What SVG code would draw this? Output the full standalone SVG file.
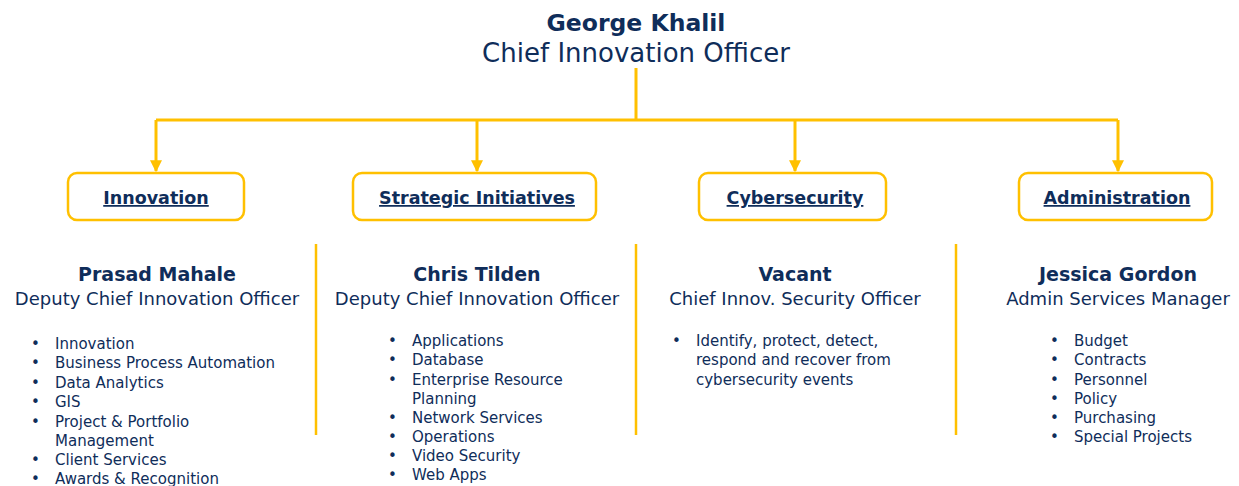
<svg xmlns="http://www.w3.org/2000/svg" width="1239" height="486" viewBox="0 0 1239 486">
<defs>
<style>
text{font-family:"DejaVu Sans","Liberation Sans",sans-serif;fill:#0f2d5a}
.h{font-size:23.5px;font-weight:bold}
.ht{font-size:26px}
.lbl{font-size:17.5px;font-weight:bold;text-decoration:underline}
.nm{font-size:19px;font-weight:bold}
.tt{font-size:18px}
.li{font-size:15px}
.box{fill:#fff;stroke:#ffc000;stroke-width:2.5}
.ln{stroke:#ffc000;stroke-width:3;fill:none}
.dv{stroke:#ffc000;stroke-width:2.5}
</style>
<marker id="ah" viewBox="0 0 10 10" refX="9" refY="5" markerWidth="4" markerHeight="4" orient="auto" markerUnits="strokeWidth">
<path d="M0,0 L10,5 L0,10 z" fill="#ffc000"/>
</marker>
</defs>
<rect width="1239" height="486" fill="#fff"/>
<g id="ceo">
<text class="h" x="636" y="31" text-anchor="middle">George Khalil</text>
<text class="ht" x="636" y="62" text-anchor="middle">Chief Innovation Officer</text>
</g>
<g id="connectors">
<path class="ln" d="M636,68 V120 M156,120 H1118"/>
<path class="ln" d="M156,120 V171" marker-end="url(#ah)"/>
<path class="ln" d="M477,120 V171" marker-end="url(#ah)"/>
<path class="ln" d="M795,120 V171" marker-end="url(#ah)"/>
<path class="ln" d="M1118,120 V171" marker-end="url(#ah)"/>
<line class="dv" x1="316" y1="244" x2="316" y2="435"/>
<line class="dv" x1="636" y1="244" x2="636" y2="435"/>
<line class="dv" x1="956" y1="244" x2="956" y2="435"/>
</g>
<g id="innovation">
<rect class="box" x="68" y="173" width="176" height="47" rx="9"/>
<text class="lbl" x="156" y="204" text-anchor="middle">Innovation</text>
</g>
<g id="strategic">
<rect class="box" x="353" y="173" width="243" height="47" rx="9"/>
<text class="lbl" x="477" y="204" text-anchor="middle">Strategic Initiatives</text>
</g>
<g id="cyber">
<rect class="box" x="699" y="173" width="187" height="47" rx="9"/>
<text class="lbl" x="795" y="204" text-anchor="middle">Cybersecurity</text>
</g>
<g id="admin">
<rect class="box" x="1019" y="173" width="193" height="47" rx="9"/>
<text class="lbl" x="1117" y="204" text-anchor="middle">Administration</text>
</g>
<g id="prasad">
<text class="nm" x="157" y="281" text-anchor="middle">Prasad Mahale</text>
<text class="tt" x="157" y="305" text-anchor="middle">Deputy Chief Innovation Officer</text>
<g class="li">
<text x="31" y="349">•</text><text x="55" y="349">Innovation</text>
<text x="31" y="368">•</text><text x="55" y="368">Business Process Automation</text>
<text x="31" y="388">•</text><text x="55" y="388">Data Analytics</text>
<text x="31" y="407">•</text><text x="55" y="407">GIS</text>
<text x="31" y="427">•</text><text x="55" y="427">Project &amp; Portfolio</text>
<text x="55" y="446">Management</text>
<text x="31" y="465">•</text><text x="55" y="465">Client Services</text>
<text x="31" y="484">•</text><text x="55" y="484">Awards &amp; Recognition</text>
</g>
</g>
<g id="chris">
<text class="nm" x="477" y="281" text-anchor="middle">Chris Tilden</text>
<text class="tt" x="477" y="305" text-anchor="middle">Deputy Chief Innovation Officer</text>
<g class="li">
<text x="388" y="346">•</text><text x="412" y="346">Applications</text>
<text x="388" y="365">•</text><text x="412" y="365">Database</text>
<text x="388" y="385">•</text><text x="412" y="385">Enterprise Resource</text>
<text x="412" y="404">Planning</text>
<text x="388" y="423">•</text><text x="412" y="423">Network Services</text>
<text x="388" y="442">•</text><text x="412" y="442">Operations</text>
<text x="388" y="461">•</text><text x="412" y="461">Video Security</text>
<text x="388" y="480">•</text><text x="412" y="480">Web Apps</text>
</g>
</g>
<g id="vacant">
<text class="nm" x="795" y="281" text-anchor="middle">Vacant</text>
<text class="tt" x="795" y="305" text-anchor="middle">Chief Innov. Security Officer</text>
<g class="li">
<text x="672" y="346">•</text><text x="696" y="346">Identify, protect, detect,</text>
<text x="696" y="365">respond and recover from</text>
<text x="696" y="385">cybersecurity events</text>
</g>
</g>
<g id="jessica">
<text class="nm" x="1118" y="281" text-anchor="middle">Jessica Gordon</text>
<text class="tt" x="1118" y="305" text-anchor="middle">Admin Services Manager</text>
<g class="li">
<text x="1050" y="346">•</text><text x="1074" y="346">Budget</text>
<text x="1050" y="365">•</text><text x="1074" y="365">Contracts</text>
<text x="1050" y="385">•</text><text x="1074" y="385">Personnel</text>
<text x="1050" y="404">•</text><text x="1074" y="404">Policy</text>
<text x="1050" y="423">•</text><text x="1074" y="423">Purchasing</text>
<text x="1050" y="442">•</text><text x="1074" y="442">Special Projects</text>
</g>
</g>
</svg>
